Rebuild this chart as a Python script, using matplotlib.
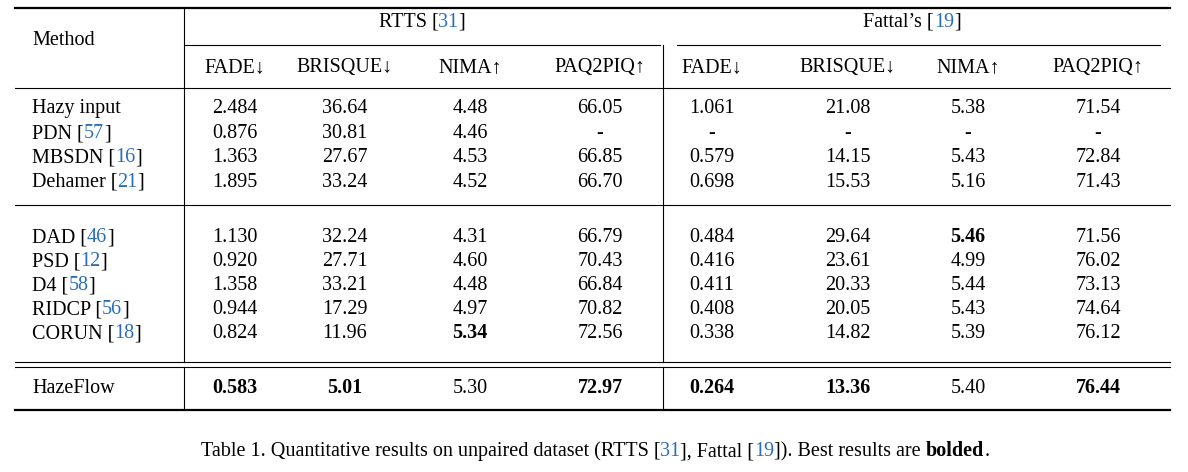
import matplotlib.pyplot as plt
from matplotlib.font_manager import FontProperties

plt.rcParams['font.family'] = ['Liberation Serif', 'DejaVu Serif']

# table data
methods = ['Hazy input', 'PDN', 'MBSDN', 'Dehamer', 'DAD', 'PSD', 'D4', 'RIDCP', 'CORUN', 'HazeFlow']
cites = ['', '57', '16', '21', '46', '12', '58', '56', '18', '']
rtts_fade = ['2.484', '0.876', '1.363', '1.895', '1.130', '0.920', '1.358', '0.944', '0.824', '0.583']
rtts_brisque = ['36.64', '30.81', '27.67', '33.24', '32.24', '27.71', '33.21', '17.29', '11.96', '5.01']
rtts_nima = ['4.48', '4.46', '4.53', '4.52', '4.31', '4.60', '4.48', '4.97', '5.34', '5.30']
rtts_paq = ['66.05', '-', '66.85', '66.70', '66.79', '70.43', '66.84', '70.82', '72.56', '72.97']
fat_fade = ['1.061', '-', '0.579', '0.698', '0.484', '0.416', '0.411', '0.408', '0.338', '0.264']
fat_brisque = ['21.08', '-', '14.15', '15.53', '29.64', '23.61', '20.33', '20.05', '14.82', '13.36']
fat_nima = ['5.38', '-', '5.43', '5.16', '5.46', '4.99', '5.44', '5.43', '5.39', '5.40']
fat_paq = ['71.54', '-', '72.84', '71.43', '71.56', '76.02', '73.13', '74.64', '76.12', '76.44']
sub_headers = ['FADE↓', 'BRISQUE↓', 'NIMA↑', 'PAQ2PIQ↑'] * 2
# bold cells: (row, col)
bold = {(9, 0), (9, 1), (9, 3), (9, 4), (9, 5), (9, 7), (8, 2), (4, 6)}

columns = [rtts_fade, rtts_brisque, rtts_nima, rtts_paq, fat_fade, fat_brisque, fat_nima, fat_paq]
col_x = [235, 345, 470, 600, 712, 848, 968, 1098]
row_y = [108, 133, 157, 182, 237, 261, 285, 309, 333, 388]
BLUE = '#2a6ebb'
FS = 14.5
BASE = 5  # baseline offset from row centre, px

fig = plt.figure(figsize=(11.88, 4.72), dpi=100)
ax = fig.add_axes([0, 0, 1, 1])
ax.set_xlim(0, 1188)
ax.set_ylim(472, 0)
ax.axis('off')
renderer = fig.canvas.get_renderer()


def width(s, weight='normal'):
    prop = FontProperties(family=['Liberation Serif', 'DejaVu Serif'], size=FS, weight=weight)
    return renderer.get_text_width_height_descent(s, prop, ismath=False)[0]


def put(x, y, s, ha='center', weight='normal', color='black'):
    ax.text(x, y + BASE, s, fontsize=FS, ha=ha, va='baseline', fontweight=weight, color=color)


def seg_text(x, y, parts, ha='left'):
    # parts: list of (string, color, weight) drawn one after another
    full = ''.join(p[0] for p in parts)
    total = sum(width(s, w) for s, c, w in parts)
    if ha == 'center':
        x = x - total / 2
    pre = ''
    for s, c, w in parts:
        put(x, y, s, ha='left', weight=w, color=c)
        x += width(s, w)


def hline(y, x0=15, x1=1170, lw=0.8):
    ax.plot([x0, x1], [y, y], color='black', lw=lw)


# rules
hline(8, lw=1.6)
hline(45, 185, 660)
hline(45, 677, 1160)
hline(88)
hline(205)
hline(362)
hline(367)
hline(410, lw=1.6)
ax.plot([184, 184], [8, 88], color='black', lw=0.8)
ax.plot([663, 663], [45, 88], color='black', lw=0.8)
for y0, y1 in [(88, 205), (205, 362), (367, 410)]:
    ax.plot([184, 184], [y0, y1], color='black', lw=0.8)
    ax.plot([663, 663], [y0, y1], color='black', lw=0.8)

# headers
put(32, 40, 'Method', ha='left')
seg_text(422, 22, [('RTTS [', 'black', 'normal'), ('31', BLUE, 'normal'), (']', 'black', 'normal')], ha='center')
seg_text(912, 22, [("Fattal’s [", 'black', 'normal'), ('19', BLUE, 'normal'), (']', 'black', 'normal')], ha='center')
for x, h in zip(col_x, sub_headers):
    put(x, 67, h)

# body
for r, (m, c) in enumerate(zip(methods, cites)):
    if c:
        seg_text(32, row_y[r], [(m + ' [', 'black', 'normal'), (c, BLUE, 'normal'), (']', 'black', 'normal')])
    else:
        put(32, row_y[r], m, ha='left')
    for k, col in enumerate(columns):
        put(col_x[k], row_y[r], col[r], weight='bold' if (r, k) in bold else 'normal')

# caption
cap = [('Table 1. Quantitative results on unpaired dataset (RTTS [', 'black', 'normal'), ('31', BLUE, 'normal'),
       ('], Fattal [', 'black', 'normal'), ('19', BLUE, 'normal'), (']). Best results are ', 'black', 'normal'),
       ('bolded', 'black', 'bold'), ('.', 'black', 'normal')]
seg_text(595, 451, cap, ha='center')

fig.savefig('out.png', dpi=100)
